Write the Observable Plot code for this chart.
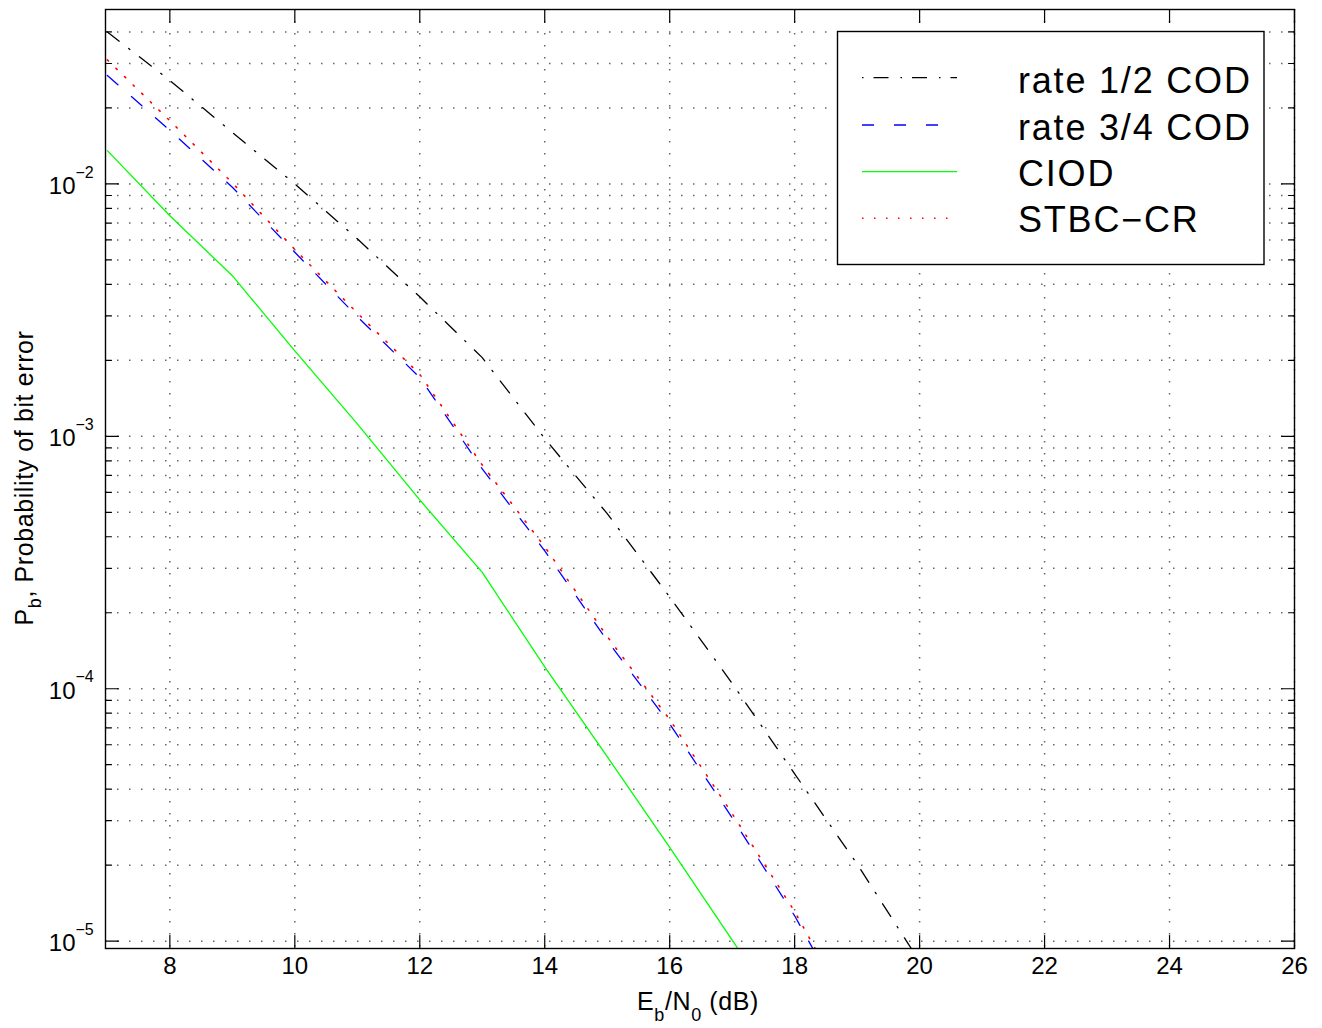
<!DOCTYPE html>
<html>
<head>
<meta charset="utf-8">
<script src="https://cdn.jsdelivr.net/npm/d3@7"></script>
<script src="https://cdn.jsdelivr.net/npm/@observablehq/plot@0.6"></script>
<style>
  html, body { margin: 0; padding: 0; background: #fff; }
  #chart svg { display: block; }
</style>
</head>
<body>
<div id="chart"></div>
<script>
// ---- data ----
const ebN0 = [7, 8, 9, 10, 11, 12, 13, 14, 15, 16, 17, 18, 19, 20];
const rateHalfCOD = [0.040, 0.0257, 0.0160, 0.0100, 6.06e-3, 3.57e-3, 2.05e-3, 9.8e-4, 4.94e-4, 2.31e-4, 1.05e-4, 4.6e-5, 2.02e-5, 8.3e-6];
const rateThreeQuarterCOD = [0.0269, 0.0163, 9.7e-3, 5.36e-3, 2.98e-3, 1.71e-3, 7.43e-4, 3.52e-4, 1.55e-4, 7.26e-5, 3.08e-5, 1.26e-5, 4.5e-6];
const ciod = [0.01355, 7.48e-3, 4.33e-3, 2.18e-3, 1.12e-3, 5.6e-4, 2.89e-4, 1.22e-4, 5.38e-5, 2.35e-5, 1.01e-5, 4.3e-6];
const stbcCR = [0.031, 0.0178, 0.0101, 5.5e-3, 3.08e-3, 1.76e-3, 7.7e-4, 3.65e-4, 1.61e-4, 7.55e-5, 3.2e-5, 1.31e-5, 4.7e-6];

const seriesNames = ["rate 1/2 COD", "rate 3/4 COD", "CIOD", "STBC\u2212CR"];
const seriesValues = [rateHalfCOD, rateThreeQuarterCOD, ciod, stbcCR];
const seriesColors = ["#000000", "#0000ff", "#00ff00", "#ff0000"];
const seriesDash = ["15,12,1.5,12", "14,18", null, "1.5,10.5"];

const xTickValues = [8, 10, 12, 14, 16, 18, 20, 22, 24, 26];
const yTickExponents = [-5, -4, -3, -2];
const yMinorMultipliers = [2, 3, 4, 5, 6, 7, 8, 9];

const xDomain = [6.97, 26];
const yDomain = [9.35e-6, 0.0491];

// ---- derived tables ----
const rows = [];
seriesNames.forEach((name, s) => {
  seriesValues[s].forEach((v, i) => rows.push({series: name, x: ebN0[i], y: v}));
});
const yMajor = yTickExponents.map(e => Math.pow(10, e));
const yMinor = [];
yTickExponents.forEach(e => yMinorMultipliers.forEach(m => {
  const v = m * Math.pow(10, e);
  if (v >= yDomain[0] && v <= yDomain[1]) yMinor.push(v);
}));
const yGrid = yMajor.concat(yMinor);

const tickShape = {draw(context, l) { context.moveTo(0, 0); context.lineTo(0, -l); }};
const tickOpts = {stroke: "#000", strokeWidth: 1.2, anchor: "start", shape: tickShape};

const font = "'Liberation Sans', Arial, Helvetica, sans-serif";
const gridStyle = {stroke: "#666", strokeWidth: 1.5, strokeDasharray: "1.5,10.5"};

const marks = [
  Plot.ruleX(xTickValues, {x: d => d, ...gridStyle}),
  Plot.ruleY(yGrid, {y: d => d, ...gridStyle}),
];
seriesNames.forEach((name, s) => {
  marks.push(Plot.line(rows.filter(r => r.series === name), {
    x: "x", y: "y", stroke: seriesColors[s], strokeWidth: s === 3 ? 1.6 : 1.3,
    strokeDasharray: seriesDash[s] || undefined, clip: true
  }));
});
marks.push(
  Plot.frame({stroke: "#000", strokeWidth: 1.4}),
  // ticks pointing inward
  Plot.vector(xTickValues, {x: d => d, frameAnchor: "bottom", rotate: 0, length: 13, ...tickOpts}),
  Plot.vector(xTickValues, {x: d => d, frameAnchor: "top", rotate: 180, length: 13, ...tickOpts}),
  Plot.vector(yMajor, {y: d => d, frameAnchor: "left", rotate: 90, length: 13, ...tickOpts}),
  Plot.vector(yMajor, {y: d => d, frameAnchor: "right", rotate: -90, length: 13, ...tickOpts}),
  Plot.vector(yMinor, {y: d => d, frameAnchor: "left", rotate: 90, length: 6, ...tickOpts}),
  Plot.vector(yMinor, {y: d => d, frameAnchor: "right", rotate: -90, length: 6, ...tickOpts}),
  // tick labels
  Plot.text(xTickValues, {x: d => d, frameAnchor: "bottom", dy: 25, text: d => String(d), fontSize: 24, fill: "#000"}),
  Plot.text(yTickExponents, {y: e => Math.pow(10, e), frameAnchor: "left", dx: -30, dy: 2.3, text: () => "10", textAnchor: "end", fontSize: 24, fill: "#000"}),
  Plot.text(yTickExponents, {y: e => Math.pow(10, e), frameAnchor: "left", dx: -30, dy: -11.4, text: e => "\u2212" + (-e), textAnchor: "start", fontSize: 16, fill: "#000"})
);

const chart = Plot.plot({
  width: 1322,
  height: 1028,
  marginLeft: 105,
  marginRight: 28,
  marginTop: 9,
  marginBottom: 80,
  style: {fontFamily: font, background: "#fff", color: "#000"},
  x: {domain: xDomain, axis: null},
  y: {type: "log", domain: yDomain, axis: null},
  marks
});
document.getElementById("chart").appendChild(chart);

// ---- axis titles and legend ----
const svg = d3.select(chart);
const xt = svg.append("text")
  .attr("x", 698).attr("y", 1010)
  .attr("text-anchor", "middle")
  .attr("letter-spacing", "0.6px")
  .attr("font-size", 25).attr("font-family", font).attr("fill", "#000");
xt.append("tspan").text("E");
xt.append("tspan").attr("font-size", 18).attr("dy", 11).text("b");
xt.append("tspan").attr("dy", -11).text("/N");
xt.append("tspan").attr("font-size", 18).attr("dy", 11).text("0");
xt.append("tspan").attr("dy", -11).text(" (dB)");

const yt = svg.append("text")
  .attr("transform", "translate(33,478) rotate(-90)")
  .attr("text-anchor", "middle")
  .attr("letter-spacing", "0.6px")
  .attr("font-size", 25).attr("font-family", font).attr("fill", "#000");
yt.append("tspan").text("P");
yt.append("tspan").attr("font-size", 18).attr("dy", 8).text("b");
yt.append("tspan").attr("dy", -8).text(", Probability of bit error");

const lg = svg.append("g");
lg.append("rect")
  .attr("x", 837.5).attr("y", 31.5).attr("width", 426.5).attr("height", 233)
  .attr("fill", "#fff").attr("stroke", "#000").attr("stroke-width", 1.4);
const lineY = [77.7, 125, 171.7, 218.3];
const textY = [93.3, 140, 185.7, 231.7];
seriesNames.forEach((name, s) => {
  lg.append("line")
    .attr("x1", 862).attr("x2", 957).attr("y1", lineY[s]).attr("y2", lineY[s])
    .attr("stroke", seriesColors[s]).attr("stroke-width", s === 3 ? 1.6 : 1.3)
    .attr("stroke-dasharray", s === 0 ? "1.5,10,15,12" : (s === 1 ? "12,20" : seriesDash[s]));
  lg.append("text")
    .attr("x", 1018).attr("y", textY[s])
    .attr("text-anchor", "start")
    .attr("letter-spacing", "1.8px")
    .attr("font-size", 36).attr("font-family", font).attr("fill", "#000")
    .text(name);
});
</script>
</body>
</html>
